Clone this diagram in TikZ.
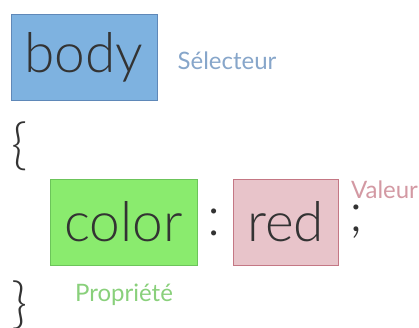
\documentclass[tikz,border=0pt]{standalone}
\usepackage{fontspec}
\setmainfont{Lato}[UprightFont=* Light]
\newfontfamily\tagfont{Lato}
\usepackage{tikz}
\definecolor{selfill}{HTML}{7EB2E0}
\definecolor{seldraw}{HTML}{5F88B8}
\definecolor{propfill}{HTML}{8AEB6E}
\definecolor{propdraw}{HTML}{6CC45A}
\definecolor{valfill}{HTML}{E8C4CA}
\definecolor{valdraw}{HTML}{C47784}
\definecolor{codetext}{HTML}{333333}

\begin{document}
\begin{tikzpicture}[x=1pt, y=1pt,
    cbox/.style={draw, line width=0.8pt, inner sep=0pt, text=codetext, font=\fontsize{55}{60}\selectfont},
    ctext/.style={text=codetext, inner sep=0pt, font=\fontsize{55}{60}\selectfont},
    tag/.style={inner sep=0pt, font=\tagfont\fontsize{24}{28}\selectfont}]
    \useasboundingbox (0, 0) rectangle (419, 327);

    \node[cbox, fill=selfill, draw=seldraw, minimum width=146, minimum height=86] (body) at (84, 270) {body};
    \node[tag, text=seldraw!75] (selecteur) at (227, 266) {Sélecteur};

    \node[ctext] (open) at (20, 181) {\{};

    \node[cbox, fill=propfill, draw=propdraw, minimum width=147, minimum height=86] (color) at (123.5, 105) {color};
    \node[ctext] (colon) at (214, 105) {:};
    \node[cbox, fill=valfill, draw=valdraw, minimum width=105, minimum height=86] (red) at (285.5, 105) {red};
    \node[ctext] (semi) at (356, 105) {;};
    \node[tag, text=valdraw!75] (valeur) at (384.5, 137) {Valeur};
    \node[tag, text=propdraw!80] (propriete) at (124, 32) {Propriété};

    \node[ctext] (close) at (20, 22) {\}};
\end{tikzpicture}
\end{document}
